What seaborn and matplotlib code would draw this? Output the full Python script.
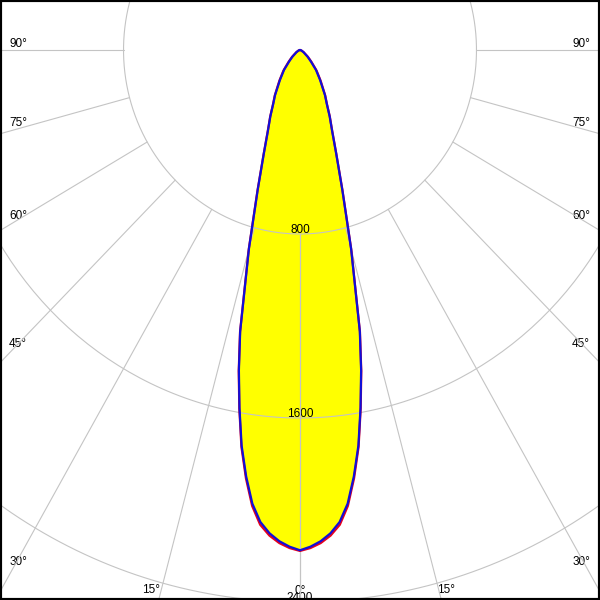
import matplotlib
matplotlib.use("Agg")
import matplotlib.pyplot as plt
import numpy as np
import pandas as pd
import seaborn as sns

# luminous intensity (cd) vs angle from nadir (deg), symmetric lobe
angles = [0, 1.25, 2.5, 3.75, 5, 6.25, 7.5, 8.75, 10, 11.25, 12.5, 15, 17.5,
          20, 22.5, 25, 27.5, 30, 35, 40, 45, 50, 60, 70, 80, 90]
c0_c180 = [2175, 2160, 2138, 2106, 2060, 1984, 1870, 1740, 1580, 1420, 1253,
           895, 638, 480, 380, 318, 262, 226, 158, 112, 68, 44, 18, 7, 2, 0]
c90_c270 = [2178, 2166, 2146, 2116, 2072, 1994, 1878, 1746, 1584, 1424, 1256,
            898, 641, 482, 382, 320, 264, 229, 163, 117, 74, 48, 19, 7, 2, 0]

grid_rings = [800, 1600, 2400]
grid_spokes = [0, 15, 30, 45, 60, 75, 90]
spoke_labels = ["90°", "75°", "60°", "45°", "30°", "15°", "0°",
                "15°", "30°", "45°", "60°", "75°", "90°"]
# where the angle labels sit (pixels, text centre x / baseline y)
spoke_label_px = [(18, 47), (18, 126), (18, 219), (18, 347), (18, 565), (151, 593),
                  (300, 594), (446, 593), (581, 565), (581, 347), (581, 219),
                  (581, 126), (581, 47)]

# pixel scale of the original drawing
PX_X = 0.2206   # px per cd horizontally
PX_Y = 0.230    # px per cd vertically
CX, CY = 300, 50
W = H = 600


def lobe(values):
    th = [-a for a in angles[::-1]] + angles[1:]
    r = values[::-1] + values[1:]
    th = np.radians(th)
    r = np.asarray(r, dtype=float)
    return pd.DataFrame({"x": r * np.sin(th), "y": -r * np.cos(th)})


sns.set_style("white")
plt.rcParams["font.family"] = ["Liberation Sans", "DejaVu Sans"]

fig = plt.figure(figsize=(6, 6), dpi=100)
ax = fig.add_axes([0, 0, 1, 1])
ax.set_xlim(-CX / PX_X, (W - CX) / PX_X)
ax.set_ylim(-(H - CY) / PX_Y, CY / PX_Y)

blue = lobe(c0_c180)
red = lobe(c90_c270)
ax.fill(red["x"], red["y"], color="#ffff00", lw=0, zorder=1)
ax.fill(blue["x"], blue["y"], color="#ffff00", lw=0, zorder=1)

grid_col = "#c4c4c4"
t = np.linspace(0, 2 * np.pi, 361)
for rr in grid_rings:
    ax.plot(rr * np.sin(t), rr * np.cos(t), color=grid_col, lw=0.8, zorder=2)
for a in grid_spokes:
    for s in (-1, 1):
        th = np.radians(s * a)
        ax.plot([800 * np.sin(th), 4000 * np.sin(th)],
                [-800 * np.cos(th), -4000 * np.cos(th)],
                color=grid_col, lw=0.8, zorder=2)

for rr in grid_rings:
    ax.text(0, -rr + 4, f"{rr}", ha="center", va="baseline",
            fontsize=8.5, color="black", zorder=1.5)
for lab, (px, py) in zip(spoke_labels, spoke_label_px):
    ax.text(px / W, 1 - py / H, lab, transform=ax.transAxes, ha="center",
            va="baseline", fontsize=8.5, color="black", zorder=1.5)

sns.lineplot(data=red, x="x", y="y", sort=False, estimator=None,
             color="#e8001c", lw=1.6, ax=ax, zorder=3)
sns.lineplot(data=blue, x="x", y="y", sort=False, estimator=None,
             color="#1010d8", lw=1.6, ax=ax, zorder=4)

ax.set_xticks([])
ax.set_yticks([])
ax.set_xlabel("")
ax.set_ylabel("")
for sp in ax.spines.values():
    sp.set_visible(True)
    sp.set_color("black")
    sp.set_linewidth(3)

fig.savefig("out.png", dpi=100)
